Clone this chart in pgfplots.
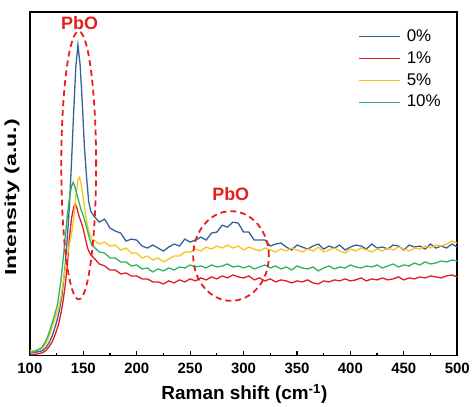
\documentclass[border=0pt]{standalone}
\usepackage{pgfplots}
\pgfplotsset{compat=1.18}
\usepackage{fontspec}
\setmainfont{Liberation Sans}
\definecolor{cblue}{RGB}{52,98,156}
\definecolor{cred}{RGB}{226,28,36}
\definecolor{cyellow}{RGB}{250,196,24}
\definecolor{cgreen}{RGB}{46,178,100}
\definecolor{pbred}{RGB}{232,30,30}
\pgfplotstableread{
x y
100 3
104 3
108 4
112 5
115 8
118 13
121 20
124 30
127 42
130 60
133 90
135 118
137 150
139 195
141 245
143 290
145 312
147 292
149 255
151 210
153 180
155 155
157 145
160 140
165 134
170 137
175 128
180 125
185 123
190 115
195 117
200 116
205 110
210 108
215 111
220 108
225 105
230 109
235 112
240 110
245 117
250 114
255 116
260 119
265 116
270 123
275 124
280 131
285 129
290 134
295 133
300 124
305 124
310 116
315 116
320 116
325 110
330 112
335 113
340 109
345 106
350 111
355 109
360 107
365 110
370 112
375 107
380 110
385 108
390 111
395 106
400 109
405 111
410 110
415 107
420 112
425 108
430 109
435 107
440 111
445 110
450 106
455 111
460 109
465 110
470 107
475 112
480 108
485 110
490 108
495 112
500 109
}\dblue
\pgfplotstableread{
x y
100 1
104 1
108 2
112 3
115 5
118 9
121 14
124 22
127 32
129 42
131 54
133 70
135 90
137 118
139 138
141 149
142.5 152
144 148
146 140
148 134
150 127
152 117
154 108
156 103
158 100
160 98
165 92
170 90
175 86
180 86
185 82
190 83
195 80
200 80
205 77
210 77
215 74
220 74
225 72
230 75
235 73
240 76
245 74
250 77
255 75
260 78
265 76
270 79
275 77
280 80
285 78
290 81
295 79
300 78
305 80
310 76
315 78
320 75
325 77
330 74
335 76
340 75
345 73
350 75
355 74
360 76
365 73
370 72
375 75
380 74
385 76
390 75
395 77
400 75
405 76
410 78
415 75
420 77
425 76
430 78
435 76
440 77
445 79
450 76
455 78
460 77
465 79
470 78
475 80
480 79
485 78
490 80
495 81
500 79
}\dred
\pgfplotstableread{
x y
100 5
104 5
108 6
112 7
115 12
118 19
121 29
124 39
127 48
129 58
132 80
135 100
137 112
139 122
141 138
143 160
145 176
146.5 179
148 172
150 158
152 142
154 130
156 122
158 117
160 116
165 112
170 114
175 110
180 111
185 106
190 108
195 103
200 103
205 98
210 100
215 96
220 98
225 94
230 97
235 100
240 100
245 104
250 104
255 107
260 105
265 109
270 107
275 110
280 108
285 111
290 108
295 110
300 106
305 109
310 107
315 105
320 108
325 106
330 104
335 107
340 105
345 108
350 106
355 104
360 107
365 105
370 109
375 104
380 106
385 108
390 105
395 103
400 107
405 105
410 108
415 106
420 104
425 107
430 105
435 108
440 106
445 109
450 107
455 105
460 108
465 107
470 110
475 108
480 111
485 110
490 112
495 115
500 113
}\dyellow
\pgfplotstableread{
x y
100 3
104 4
108 6
111 8
114 13
117 20
120 30
123 40
126 52
129 75
131 95
133 118
135 140
137 158
139 170
140.5 174
142 170
144 162
146 154
148 146
151 137
154 125
156 117
158 111
160 109
165 104
170 103
175 98
180 98
185 94
190 94
195 90
200 91
205 87
210 88
215 84
220 87
225 85
230 88
235 86
240 89
245 88
250 91
255 89
260 90
265 88
270 91
275 89
280 90
285 92
290 89
295 90
300 88
305 90
310 87
315 89
320 91
325 88
330 90
335 87
340 89
345 86
350 90
355 88
360 87
365 89
370 85
375 88
380 90
385 87
390 89
395 88
400 91
405 89
410 88
415 90
420 89
425 91
430 88
435 90
440 92
445 89
450 91
455 90
460 93
465 91
470 94
475 92
480 93
485 95
490 94
495 96
500 95
}\dgreen
\begin{document}
\begin{tikzpicture}
\begin{axis}[
  scale only axis, width=429pt, height=345pt,
  xmin=100, xmax=500, ymin=0, ymax=345,
  xtick={100,150,...,500}, minor x tick num=1,
  ytick=\empty,
  xtick pos=left, tick align=inside,
  major tick length=5pt, minor tick length=3pt,
  axis line style={line width=1.7pt},
  tick style={line width=1.2pt, black},
  clip=false,
  /pgf/number format/assume math mode=true,
  /pgf/number format/1000 sep={},
  xticklabel style={font=\fontsize{15}{15}\selectfont\bfseries, anchor=base, yshift=-17.5pt},
  xlabel={Raman shift (cm\textsuperscript{-1})},
  xlabel style={font=\fontsize{19}{19}\selectfont\bfseries, at={(axis description cs:0.502,-0.1275)}, anchor=base},
  ylabel={\scalebox{1.45}[1]{Intensity (a.u.)}},
  ylabel style={font=\fontsize{16}{16}\selectfont\bfseries, at={(axis description cs:-0.042,0.46)}, anchor=center},
  legend style={draw=none, fill=none, at={(0.762,0.956)}, anchor=north west,
    font=\fontsize{17}{17}\selectfont, nodes={inner sep=0pt, text height=12pt, text depth=3pt},
    row sep=7pt, column sep=6pt},
  legend cell align=left,
  legend image code/.code={\draw[#1] (0pt,0pt) -- (41pt,0pt);},
  every axis plot/.append style={line width=1.3pt},
]
\addplot[cblue] table {\dblue};
\addlegendentry{0\%}
\addplot[cred] table {\dred};
\addlegendentry{1\%}
\addplot[cyellow] table {\dyellow};
\addlegendentry{5\%}
\addplot[cgreen] table {\dgreen};
\addlegendentry{10\%}
\draw[pbred, line width=1.8pt, dash pattern=on 6pt off 4pt] (axis cs:145.7,191) ellipse [x radius=16.3, y radius=134.5];
\draw[pbred, line width=1.8pt, dash pattern=on 6pt off 4pt] (axis cs:288.3,100) ellipse [x radius=35.4, y radius=45];
\node[text=pbred, font=\fontsize{18}{18}\selectfont\bfseries] at (axis cs:146.6,334) {PbO};
\node[text=pbred, font=\fontsize{18}{18}\selectfont\bfseries] at (axis cs:288,162) {PbO};
\end{axis}
\useasboundingbox (-30pt,-48pt) rectangle (443pt,357pt);
\end{tikzpicture}
\end{document}
